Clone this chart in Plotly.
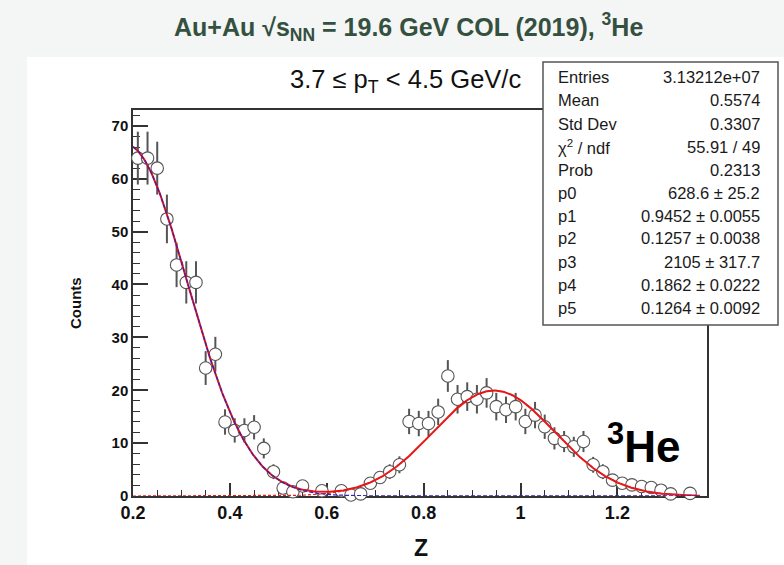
import numpy as np
import plotly.graph_objects as go

# ---- histogram content (bin centres, counts, errors); empty bins are None ----
z_centers = [0.21, 0.23, 0.25, 0.27, 0.29, 0.31, 0.33, 0.35, 0.37, 0.39,
             0.41, 0.43, 0.45, 0.47, 0.49, 0.51, 0.53, 0.55, 0.57, 0.59,
             0.61, 0.63, 0.65, 0.67, 0.69, 0.71, 0.73, 0.75, 0.77, 0.79,
             0.81, 0.83, 0.85, 0.87, 0.89, 0.91, 0.93, 0.95, 0.97, 0.99,
             1.01, 1.03, 1.05, 1.07, 1.09, 1.11, 1.13, 1.15, 1.17, 1.19,
             1.21, 1.23, 1.25, 1.27, 1.29, 1.31, 1.33, 1.35]
counts = [63.9, 63.9, 62.0, 52.4, 43.7, 40.4, 40.4, 24.2, 26.8, 14.0,
          12.4, 12.4, 13.0, 9.0, 4.6, 1.5, 0.8, 1.9, None, 1.0,
          None, 1.0, 0.2, 0.4, 2.4, 3.5, 4.6, 5.9, 14.1, 13.7,
          13.7, 15.9, 22.7, 18.3, 18.8, 18.3, 19.5, 16.9, 16.3, 16.9,
          14.1, 15.3, 13.1, 10.9, 10.3, 9.3, 10.3, 5.9, 4.6, 3.0,
          2.4, 2.1, 1.8, 1.6, 1.1, 0.4, None, 0.5]
count_err = [5.0, 5.0, 5.0, 4.6, 4.2, 4.0, 4.0, 3.2, 3.3, 2.4,
             2.3, 2.3, 2.3, 1.9, 1.4, 0.8, 0.6, 0.9, None, 0.6,
             None, 0.6, 0.3, 0.4, 1.0, 1.2, 1.4, 1.6, 2.4, 2.4,
             2.4, 2.5, 3.0, 2.7, 2.7, 2.7, 2.8, 2.6, 2.5, 2.6,
             2.4, 2.5, 2.3, 2.1, 2.0, 1.9, 2.0, 1.5, 1.4, 1.1,
             1.0, 0.9, 0.9, 0.8, 0.7, 0.4, None, 0.4]

# ---- fit parameters (double Gaussian) ----
fit_names = ["p0", "p1", "p2", "p3", "p4", "p5"]
fit_values = [628.6, 0.9452, 0.1257, 2105.0, 0.1862, 0.1264]
fit_errors = ["25.2", "0.0055", "0.0038", "317.7", "0.0222", "0.0092"]
fit_value_text = ["628.6", "0.9452", "0.1257", "2105", "0.1862", "0.1264"]
norm_width = 0.01
fit_range = [0.2, 1.37]

stat_labels = ["Entries", "Mean", "Std Dev", "χ<sup>2</sup> / ndf", "Prob"]
stat_values = ["3.13212e+07", "0.5574", "0.3307", "55.91 / 49", "0.2313"]

x_ticks = [0.2, 0.4, 0.6, 0.8, 1.0, 1.2]
y_ticks = [0, 10, 20, 30, 40, 50, 60, 70]


def gauss(x, area, mean, sigma):
    return area * norm_width / (np.sqrt(2 * np.pi) * sigma) * np.exp(-0.5 * ((x - mean) / sigma) ** 2)


xf = np.linspace(fit_range[0], fit_range[1], 600)
sig = gauss(xf, *fit_values[0:3])
bkg = gauss(xf, *fit_values[3:6])
tot = sig + bkg

# ---- geometry of the page (pixels) ----
W, H = 784, 565
L, R, T, B = 133, 707, 110, 496


def px(x):
    return (x - L) / (R - L)


def py(y):
    return (B - y) / (B - T)


FONT = "Liberation Sans, Arial, Helvetica, sans-serif"

fig = go.Figure()

fig.add_trace(go.Scatter(
    x=z_centers, y=counts, mode="markers",
    marker=dict(symbol="circle", size=12.5, color="white",
                line=dict(color="#555555", width=1.1)),
    error_y=dict(type="data", array=count_err, visible=True,
                 color="#555555", thickness=2, width=0),
    showlegend=False, hoverinfo="skip", cliponaxis=False,
))

fig.add_trace(go.Scatter(x=xf, y=tot, mode="lines",
                         line=dict(color="#ee1111", width=2),
                         showlegend=False, hoverinfo="skip"))
fig.add_trace(go.Scatter(x=xf, y=sig, mode="lines",
                         line=dict(color="#dd2222", width=1.2, dash="3px,2px"),
                         showlegend=False, hoverinfo="skip"))
fig.add_trace(go.Scatter(x=xf, y=bkg, mode="lines",
                         line=dict(color="#3322bb", width=1.3, dash="4px,2px"),
                         showlegend=False, hoverinfo="skip"))

axis_common = dict(
    showline=True, mirror=True, linecolor="#333333", linewidth=1.5,
    ticks="inside", tickcolor="#333333", tickwidth=1.5,
    showgrid=False, zeroline=False, layer="below traces",
)

fig.update_xaxes(
    range=[0.2, 1.385], tickmode="array", tickvals=x_ticks,
    ticktext=[f"{v:g}" for v in x_ticks], ticklen=13,
    tickfont=dict(family=FONT, size=18, color="#111111", weight="bold"),
    minor=dict(dtick=0.05, tick0=0.2, ticks="inside", ticklen=6,
               tickcolor="#333333", tickwidth=1.3),
    **axis_common,
)
fig.update_yaxes(
    range=[0, 73], tickmode="array", tickvals=y_ticks, ticklen=15,
    tickfont=dict(family=FONT, size=15, color="#111111", weight="bold"),
    minor=dict(dtick=2, tick0=0, ticks="inside", ticklen=7,
               tickcolor="#333333", tickwidth=1.3),
    **axis_common,
)

shapes = [
    # white panel behind the figure
    dict(type="rect", xref="paper", yref="paper", layer="below",
         x0=px(27), x1=px(W + 5), y0=py(H + 5), y1=py(57),
         fillcolor="white", line=dict(width=0)),
    # statistics box
    dict(type="rect", xref="paper", yref="paper", layer="above",
         x0=px(543), x1=px(778), y0=py(325), y1=py(62),
         fillcolor="white", line=dict(color="#555555", width=1.5)),
]

annotations = [
    dict(text="Au+Au √s<sub>NN</sub> = 19.6 GeV COL (2019), <sup>3</sup>He",
         x=px(408), y=py(27), xref="paper", yref="paper",
         xanchor="center", yanchor="middle", showarrow=False,
         font=dict(family=FONT, size=25, color="#34503f", weight="bold")),
    dict(text="3.7 ≤ p<sub>T</sub> &lt; 4.5 GeV/c",
         x=px(405), y=py(81), xref="paper", yref="paper",
         xanchor="center", yanchor="middle", showarrow=False,
         font=dict(family=FONT, size=25.5, color="#111111")),
    dict(text="Counts", x=px(75), y=py(303), xref="paper", yref="paper",
         xanchor="center", yanchor="middle", textangle=-90, showarrow=False,
         font=dict(family=FONT, size=15, color="#111111", weight="bold")),
    dict(text="Z", x=px(421), y=py(548), xref="paper", yref="paper",
         xanchor="center", yanchor="middle", showarrow=False,
         font=dict(family=FONT, size=23, color="#111111", weight="bold")),
    dict(text="<sup>3</sup>He", x=px(605), y=py(443), xref="paper", yref="paper",
         xanchor="left", yanchor="middle", showarrow=False,
         font=dict(family=FONT, size=44, color="#000000", weight="bold")),
]

rows_left = stat_labels + fit_names
rows_right = stat_values + [f"{v} ± {e}" for v, e in zip(fit_value_text, fit_errors)]
for i, (lab, val) in enumerate(zip(rows_left, rows_right)):
    yrow = 77.5 + 23.0 * i
    annotations.append(dict(text=lab, x=px(556), y=py(yrow), xref="paper", yref="paper",
                            xanchor="left", yanchor="middle", showarrow=False,
                            font=dict(family=FONT, size=16.5, color="#1a1a1a")))
    annotations.append(dict(text=val, x=px(762), y=py(yrow), xref="paper", yref="paper",
                            xanchor="right", yanchor="middle", showarrow=False,
                            font=dict(family=FONT, size=16.5, color="#1a1a1a")))

fig.update_layout(
    width=W, height=H,
    margin=dict(l=L, r=W - R, t=T, b=H - B, pad=0),
    paper_bgcolor="#f4f5f5", plot_bgcolor="white",
    shapes=shapes, annotations=annotations,
    showlegend=False,
)

fig.write_html("out.html")
